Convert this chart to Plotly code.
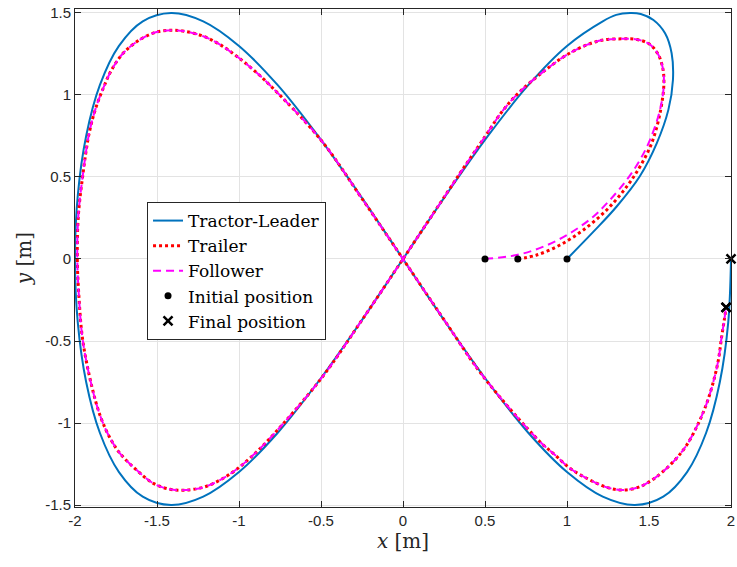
import plotly.graph_objects as go

# ---------------- data ----------------
leader_x = [1.000, 1.160, 1.303, 1.445, 1.547, 1.618, 1.646, 1.638, 1.598, 1.527, 1.450, 1.384,
            1.300, 1.218, 1.000, 0.765, 0.518, 0.261, 0.000, -0.261, -0.518, -0.765, -1.000,
            -1.218, -1.414, -1.587, -1.732, -1.848, -1.932, -1.983, -2.000, -1.983, -1.932,
            -1.848, -1.732, -1.587, -1.414, -1.218, -1.000, -0.765, -0.518, -0.261, 0.000,
            0.261, 0.518, 0.765, 1.000, 1.218, 1.414, 1.587, 1.732, 1.848, 1.932, 1.983, 2.000]
leader_y = [0.000, 0.165, 0.320, 0.506, 0.705, 0.909, 1.091, 1.254, 1.376, 1.457, 1.494, 1.500,
            1.488, 1.449, 1.299, 1.061, 0.750, 0.388, 0.000, -0.388, -0.750, -1.061, -1.299,
            -1.449, -1.500, -1.449, -1.299, -1.061, -0.750, -0.388, 0.000, 0.388, 0.750,
            1.061, 1.299, 1.449, 1.500, 1.449, 1.299, 1.061, 0.750, 0.388, 0.000,
            -0.388, -0.750, -1.061, -1.299, -1.449, -1.500, -1.449, -1.299, -1.061, -0.750, -0.388, 0.000]

trailer_x = [0.700, 0.815, 0.957, 1.100, 1.242, 1.364, 1.445, 1.516, 1.567, 1.591, 1.582, 1.552,
             1.500, 1.425, 1.343, 1.221, 1.120, 0.998, 0.856, 0.713, 0.612, 0.500, 0.348, 0.170,
             0.000, -0.250, -0.500, -0.811, -0.913, -1.014, -1.116, -1.218, -1.329, -1.421,
             -1.522, -1.624, -1.726, -1.790, -1.845, -1.897, -1.953, -1.976, -1.986, -1.980,
             -1.953, -1.915, -1.875, -1.827, -1.776, -1.705, -1.604, -1.502, -1.410, -1.329,
             -1.218, -1.116, -1.014, -0.913, -0.811, -0.500, -0.250, 0.000, 0.250, 0.500,
             0.835, 0.927, 1.018, 1.120, 1.242, 1.343, 1.445, 1.547, 1.648, 1.730, 1.801,
             1.852, 1.892, 1.923, 1.943, 1.959, 1.970]
trailer_y = [0.000, 0.024, 0.085, 0.177, 0.299, 0.441, 0.563, 0.705, 0.888, 1.071, 1.173, 1.254,
             1.312, 1.338, 1.342, 1.335, 1.305, 1.244, 1.142, 1.020, 0.909, 0.746, 0.523, 0.255,
             0.000, -0.372, -0.730, -1.093, -1.195, -1.282, -1.348, -1.392, -1.409, -1.404,
             -1.368, -1.287, -1.185, -1.085, -0.960, -0.779, -0.494, -0.230, 0.004, 0.258,
             0.506, 0.760, 0.915, 1.043, 1.154, 1.256, 1.337, 1.384, 1.394, 1.388,
             1.358, 1.307, 1.236, 1.154, 1.059, 0.725, 0.368, 0.000, -0.370, -0.730,
             -1.114, -1.195, -1.276, -1.337, -1.392, -1.409, -1.388, -1.327, -1.236, -1.134, -1.002,
             -0.880, -0.750, -0.616, -0.474, -0.372, -0.295]

follower_x = [0.500, 0.693, 0.856, 1.018, 1.160, 1.262, 1.364, 1.445, 1.506, 1.567, 1.591, 1.582,
              1.552, 1.500, 1.425, 1.343, 1.221, 1.120, 0.998, 0.856, 0.713, 0.612, 0.500, 0.348,
              0.170, 0.000, -0.250, -0.500, -0.811, -0.913, -1.014, -1.116, -1.218, -1.329,
              -1.421, -1.522, -1.624, -1.726, -1.790, -1.845, -1.897, -1.953, -1.976, -1.986,
              -1.980, -1.953, -1.915, -1.875, -1.827, -1.776, -1.705, -1.604, -1.502, -1.410,
              -1.329, -1.218, -1.116, -1.014, -0.913, -0.811, -0.500, -0.250, 0.000, 0.250,
              0.500, 0.835, 0.927, 1.018, 1.120, 1.242, 1.343, 1.445, 1.547, 1.648, 1.730,
              1.801, 1.852, 1.892, 1.923, 1.943, 1.959, 1.970]
follower_y = [0.000, 0.024, 0.075, 0.157, 0.258, 0.360, 0.482, 0.604, 0.726, 0.909, 1.071, 1.173,
              1.254, 1.312, 1.338, 1.342, 1.335, 1.305, 1.244, 1.142, 1.020, 0.909, 0.746, 0.523,
              0.255, 0.000, -0.372, -0.730, -1.093, -1.195, -1.282, -1.348, -1.392, -1.409,
              -1.404, -1.368, -1.287, -1.185, -1.085, -0.960, -0.779, -0.494, -0.230, 0.004,
              0.258, 0.506, 0.760, 0.915, 1.043, 1.154, 1.256, 1.337, 1.384, 1.394,
              1.388, 1.358, 1.307, 1.236, 1.154, 1.059, 0.725, 0.368, 0.000, -0.370,
              -0.730, -1.114, -1.195, -1.276, -1.337, -1.392, -1.409, -1.388, -1.327, -1.236, -1.134,
              -1.002, -0.880, -0.750, -0.616, -0.474, -0.372, -0.295]

initial_x = [1.0, 0.7, 0.5]
initial_y = [0.0, 0.0, 0.0]
final_x = [2.0, 1.970, 1.970]
final_y = [0.0, -0.295, -0.295]

x_ticks = [-2, -1.5, -1, -0.5, 0, 0.5, 1, 1.5, 2]
x_tick_labels = ["-2", "-1.5", "-1", "-0.5", "0", "0.5", "1", "1.5", "2"]
y_ticks = [-1.5, -1, -0.5, 0, 0.5, 1, 1.5]
y_tick_labels = ["-1.5", "-1", "-0.5", "0", "0.5", "1", "1.5"]

# ---------------- figure ----------------
fig = go.Figure()
fig.add_trace(go.Scatter(x=leader_x, y=leader_y, mode="lines", name="Tractor-Leader",
                         line=dict(color="#0072BD", width=2, shape="spline", smoothing=1)))
fig.add_trace(go.Scatter(x=trailer_x, y=trailer_y, mode="lines", name="Trailer",
                         line=dict(color="#FF0000", width=3, dash="3px,3px", shape="spline", smoothing=1)))
fig.add_trace(go.Scatter(x=follower_x, y=follower_y, mode="lines", name="Follower",
                         line=dict(color="#FF00FF", width=2, dash="8px,5px", shape="spline", smoothing=1)))
fig.add_trace(go.Scatter(x=initial_x, y=initial_y, mode="markers", name="Initial position",
                         cliponaxis=False,
                         marker=dict(color="black", size=7, symbol="circle")))
fig.add_trace(go.Scatter(x=final_x, y=final_y, mode="markers", name="Final position",
                         cliponaxis=False,
                         marker=dict(color="black", size=9, symbol="x-thin",
                                     line=dict(color="black", width=2.5))))

axis_common = dict(showgrid=True, gridcolor="#e3e3e3", gridwidth=1, zeroline=False,
                   showline=True, linecolor="#262626", linewidth=1, mirror="allticks",
                   ticks="inside", ticklen=6, tickcolor="#262626", tickwidth=1, automargin=False,
                   tickfont=dict(family="Liberation Sans, Arial, sans-serif", size=15, color="#262626"))

serif = "DejaVu Serif, Liberation Serif, serif"

fig.update_layout(
    width=737, height=567,
    margin=dict(l=75, r=6, t=9, b=60),
    paper_bgcolor="white", plot_bgcolor="white",
    xaxis=dict(range=[-2, 2], tickvals=x_ticks, ticktext=x_tick_labels,
               title=dict(text="<i>x</i> [m]", standoff=4,
                          font=dict(family=serif, size=20, color="#262626")),
               **axis_common),
    yaxis=dict(range=[-1.512, 1.524], tickvals=y_ticks, ticktext=y_tick_labels,
               title=dict(text="<i>y</i> [m]", standoff=8,
                          font=dict(family=serif, size=20, color="#262626")),
               **axis_common),
    legend=dict(x=0.1098, y=0.6124, xanchor="left", yanchor="top",
                bgcolor="white", bordercolor="#262626", borderwidth=1,
                font=dict(family=serif, size=17, color="black"),
                tracegroupgap=0, itemwidth=30),
    showlegend=True,
)

fig.write_html("out.html",
               config={"displayModeBar": False},
               post_script="document.body.style.margin='0';document.body.style.padding='0';"
                           "document.body.style.overflow='hidden';")
